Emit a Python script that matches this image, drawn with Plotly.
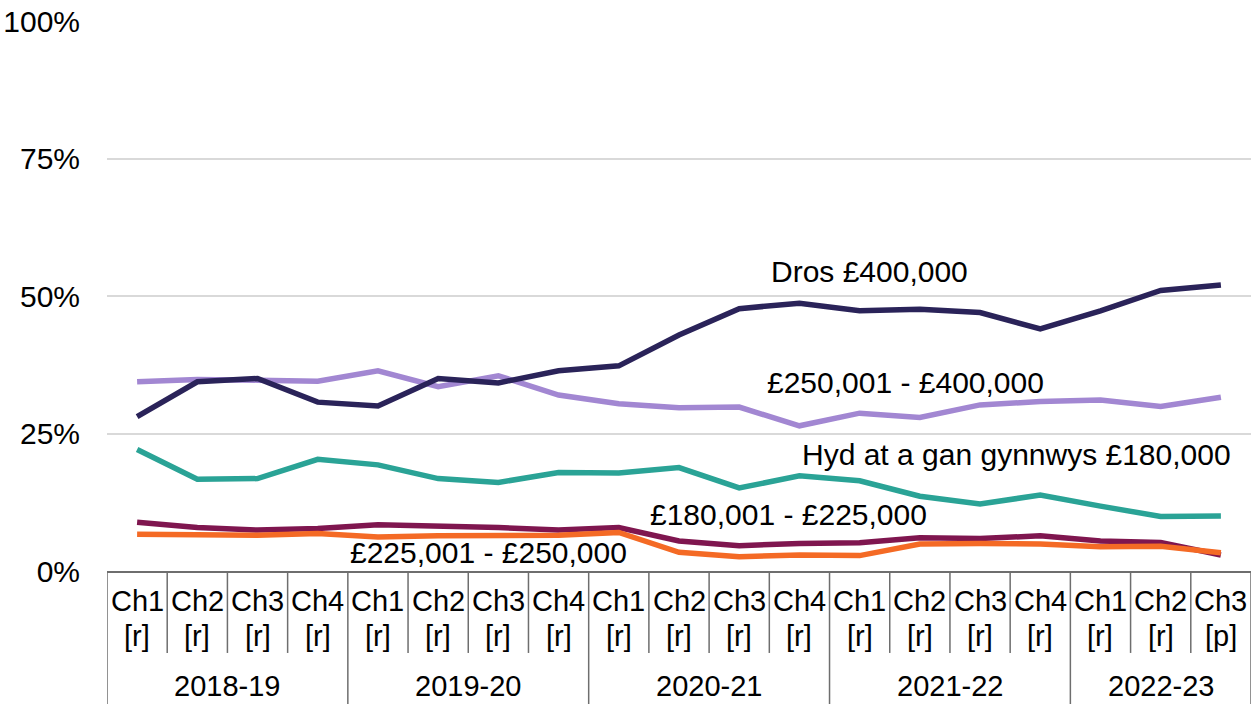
import plotly.graph_objects as go

years = ["2018-19", "2019-20", "2020-21", "2021-22", "2022-23"]
quarters_per_year = [4, 4, 4, 4, 3]
quarter_labels = ["Ch1", "Ch2", "Ch3", "Ch4", "Ch1", "Ch2", "Ch3", "Ch4", "Ch1", "Ch2",
                  "Ch3", "Ch4", "Ch1", "Ch2", "Ch3", "Ch4", "Ch1", "Ch2", "Ch3"]
quarter_flags = ["[r]"] * 18 + ["[p]"]
y_ticks = [0, 25, 50, 75, 100]
y_tick_labels = ["0%", "25%", "50%", "75%", "100%"]

upto_180k = [22.1, 16.7, 16.8, 20.3, 19.3, 16.8, 16.1, 17.9, 17.8, 18.8,
             15.1, 17.3, 16.4, 13.6, 12.2, 13.8, 11.8, 9.9, 10.0]
b180_225k = [8.85, 7.9, 7.45, 7.75, 8.4, 8.2, 7.9, 7.45, 7.9, 5.45,
             4.6, 5.0, 5.15, 6.05, 5.9, 6.4, 5.45, 5.2, 2.9]
b225_250k = [6.7, 6.5, 6.5, 6.8, 6.2, 6.4, 6.5, 6.5, 7.0, 3.4,
             2.6, 2.9, 2.8, 4.9, 5.0, 4.9, 4.4, 4.5, 3.3]
b250_400k = [34.4, 34.8, 34.7, 34.5, 36.4, 33.5, 35.5, 32.0, 30.4, 29.7,
             29.8, 26.4, 28.7, 27.9, 30.2, 30.8, 31.1, 29.9, 31.6]
over_400k = [28.05, 34.4, 35.0, 30.7, 30.0, 35.0, 34.2, 36.4, 37.3, 42.9,
             47.7, 48.7, 47.3, 47.6, 47.0, 44.0, 47.3, 51.0, 52.0]

series_names = ["Hyd at a gan gynnwys £180,000", "£180,001 - £225,000",
                "£225,001 - £250,000", "£250,001 - £400,000", "Dros £400,000"]
series_values = [upto_180k, b180_225k, b225_250k, b250_400k, over_400k]
series_colors = ["#2AA396", "#7F164F", "#F46A25", "#A287D2", "#2A2359"]

# label anchor positions (category index, percent)
label_x = [11.01, 8.49, 3.5, 10.43, 10.5]
label_y = [21.1, 10.2, 3.3, 34.2, 54.4]

FONT = "Liberation Sans, Arial, sans-serif"
FS = 30
FS_Q = 29
n = len(quarter_labels)
xs = list(range(n))

fig = go.Figure()
for name, vals, col in zip(series_names, series_values, series_colors):
    fig.add_trace(go.Scatter(x=xs, y=vals, mode="lines", name=name,
                             line=dict(color=col, width=5.5), showlegend=False))

for name, lx, ly in zip(series_names, label_x, label_y):
    fig.add_annotation(x=lx, y=ly, xref="x", yref="y", text=name, showarrow=False,
                       xanchor="left", yanchor="middle",
                       font=dict(family=FONT, size=FS, color="#000000"))

# category table lines
line_col = "#6E6E6E"
boundaries = set()
pos = 0
for q in quarters_per_year:
    boundaries.add(pos)
    pos += q
boundaries.add(pos)
for i in range(n + 1):
    y1 = -0.242 if i in boundaries else -0.149
    fig.add_shape(type="line", xref="x", yref="paper", x0=i - 0.5, x1=i - 0.5,
                  y0=0, y1=y1, line=dict(color=line_col, width=1.5))

# quarter labels
for i, (ql, qf) in enumerate(zip(quarter_labels, quarter_flags)):
    fig.add_annotation(x=i, y=-0.0545, xref="x", yref="paper", text=ql,
                       showarrow=False, xanchor="center", yanchor="middle",
                       font=dict(family=FONT, size=FS_Q, color="#000000"))
    fig.add_annotation(x=i, y=-0.118, xref="x", yref="paper", text=qf,
                       showarrow=False, xanchor="center", yanchor="middle",
                       font=dict(family=FONT, size=FS_Q, color="#000000"))

# year labels
pos = 0
for yr, q in zip(years, quarters_per_year):
    fig.add_annotation(x=pos + (q - 1) / 2, y=-0.209, xref="x", yref="paper",
                       text=yr, showarrow=False, xanchor="center", yanchor="middle",
                       font=dict(family=FONT, size=FS_Q, color="#000000"))
    pos += q

fig.update_xaxes(range=[-0.5, n - 0.5], showticklabels=False, automargin=False,
                 showgrid=False, zeroline=False, showline=True, linecolor=line_col,
                 linewidth=1.5, ticks="")
fig.update_yaxes(range=[0, 100], tickvals=y_ticks, ticktext=y_tick_labels,
                 tickfont=dict(family=FONT, size=FS, color="#000000"), automargin=False,
                 showgrid=True, gridcolor="#D9D9D9", gridwidth=1.5, zeroline=False,
                 showline=False, ticks="", ticklabelstandoff=26)

fig.update_layout(width=1253, height=704, paper_bgcolor="white", plot_bgcolor="white",
                  margin=dict(l=107, r=2, t=21, b=133), font=dict(family=FONT))

fig.write_html("out.html", config={"displayModeBar": False},
               post_script="document.body.style.margin='0';")
